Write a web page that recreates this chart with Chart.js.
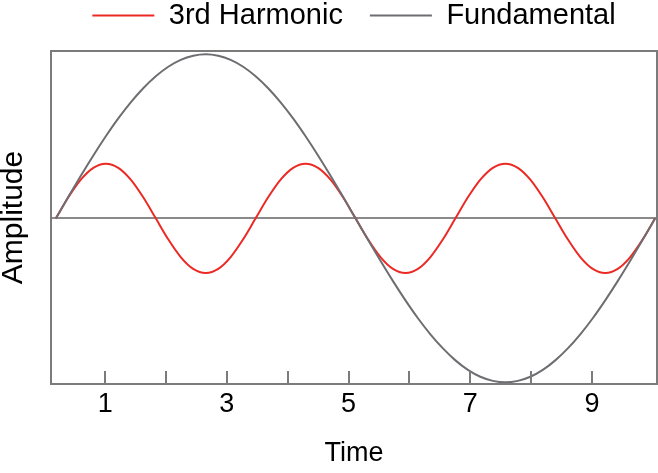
<!DOCTYPE html>
<html>
<head>
<meta charset="utf-8">
<script src="https://cdn.jsdelivr.net/npm/chart.js@4.4.1/dist/chart.umd.min.js"></script>
<style>
    html, body { margin: 0; padding: 0; background: #fff; }
    #wrap { width: 658px; height: 473px; }
</style>
</head>
<body>
<div id="wrap"><canvas id="waveChart"></canvas></div>
<script>
// sample times
const times = [0.190, 0.395, 0.600, 0.806, 1.011, 1.216, 1.421, 1.626, 1.832, 2.037, 2.242, 2.447, 2.653,
    2.858, 3.063, 3.268, 3.473, 3.679, 3.884, 4.089, 4.294, 4.499, 4.705, 4.910, 5.115,
    5.320, 5.525, 5.731, 5.936, 6.141, 6.346, 6.552, 6.757, 6.962, 7.167, 7.372, 7.578,
    7.783, 7.988, 8.193, 8.398, 8.604, 8.809, 9.014, 9.219, 9.424, 9.630, 9.835, 10.040];

const fundamental = [0, 0.131, 0.259, 0.383, 0.500, 0.609, 0.707, 0.793, 0.866, 0.924, 0.966, 0.991, 1,
    0.991, 0.966, 0.924, 0.866, 0.793, 0.707, 0.609, 0.500, 0.383, 0.259, 0.131, 0,
    -0.131, -0.259, -0.383, -0.500, -0.609, -0.707, -0.793, -0.866, -0.924, -0.966, -0.991, -1,
    -0.991, -0.966, -0.924, -0.866, -0.793, -0.707, -0.609, -0.500, -0.383, -0.259, -0.131, 0];

const thirdHarmonic = [0, 0.128, 0.236, 0.308, 0.333, 0.308, 0.236, 0.128, 0, -0.128, -0.236, -0.308, -0.333,
    -0.308, -0.236, -0.128, 0, 0.128, 0.236, 0.308, 0.333, 0.308, 0.236, 0.128, 0,
    -0.128, -0.236, -0.308, -0.333, -0.308, -0.236, -0.128, 0, 0.128, 0.236, 0.308, 0.333,
    0.308, 0.236, 0.128, 0, -0.128, -0.236, -0.308, -0.333, -0.308, -0.236, -0.128, 0];

const tickValues = [1, 2, 3, 4, 5, 6, 7, 8, 9];
const tickLabels = ['1', '', '3', '', '5', '', '7', '', '9'];

const frameColor = '#7b7b7b';
const font = 'Liberation Sans';

// box around the plot + small tick marks pointing up from the bottom edge
const framePlugin = {
    id: 'frame',
    beforeLayout(chart) {
        // leave a bigger gap under the legend than above it
        const lg = chart.legend;
        if (lg && !lg._extraGap) {
            const fit = lg.fit;
            lg.fit = function () {
                fit.call(this);
                this.height += 11;
            };
            lg._extraGap = true;
        }
    },
    afterDatasetsDraw(chart) {
        const { ctx, chartArea, scales } = chart;
        ctx.save();
        ctx.strokeStyle = frameColor;
        ctx.lineWidth = 2;
        ctx.strokeRect(chartArea.left, chartArea.top, chartArea.right - chartArea.left, chartArea.bottom - chartArea.top);
        ctx.beginPath();
        tickValues.forEach(v => {
            const x = Math.round(scales.x.getPixelForValue(v));
            ctx.moveTo(x, chartArea.bottom);
            ctx.lineTo(x, chartArea.bottom - 13);
        });
        ctx.stroke();
        ctx.restore();
    }
};

const ctx = document.getElementById('waveChart');

new Chart(ctx, {
    type: 'line',
    data: {
        datasets: [{
            label: '3rd Harmonic',
            data: times.map((t, i) => ({ x: t, y: thirdHarmonic[i] })),
            borderColor: '#ec2a25',
            backgroundColor: '#ec2a25',
            borderWidth: 2,
            pointRadius: 0,
            cubicInterpolationMode: 'monotone',
            order: 1
        }, {
            label: 'Fundamental',
            data: times.map((t, i) => ({ x: t, y: fundamental[i] })),
            borderColor: '#6e6e72',
            backgroundColor: '#6e6e72',
            borderWidth: 2,
            pointRadius: 0,
            cubicInterpolationMode: 'monotone',
            order: 0
        }]
    },
    options: {
        responsive: true,
        maintainAspectRatio: false,
        animation: false,
        devicePixelRatio: 1,
        layout: {
            padding: { top: -26, right: 1, bottom: 0, left: 0 }
        },
        plugins: {
            legend: {
                position: 'top',
                fullSize: false,
                labels: {
                    boxWidth: 62,
                    boxHeight: 0,
                    padding: 27,
                    color: '#000',
                    font: { family: font, size: 29 },
                    sort: (a, b) => a.datasetIndex - b.datasetIndex
                }
            },
            tooltip: { enabled: false }
        },
        scales: {
            x: {
                type: 'linear',
                min: 0.11,
                max: 10.07,
                afterBuildTicks: scale => {
                    scale.ticks = tickValues.map(v => ({ value: v }));
                },
                afterFit: scale => { scale.height = 89; },
                ticks: {
                    autoSkip: false,
                    maxRotation: 0,
                    padding: 4,
                    color: '#000',
                    font: { family: font, size: 27 },
                    callback: (value, index) => tickLabels[index]
                },
                grid: { display: false, drawTicks: false },
                border: { display: false },
                title: {
                    display: true,
                    text: 'Time',
                    color: '#000',
                    font: { family: font, size: 27 },
                    padding: { top: 0, bottom: 3 }
                }
            },
            y: {
                min: -1.01,
                max: 1.02,
                afterFit: scale => { scale.width = 51; },
                ticks: { display: false, stepSize: 0.5 },
                grid: {
                    drawTicks: false,
                    lineWidth: 2,
                    color: c => c.tick && c.tick.value === 0 ? '#8a8a8a' : 'rgba(0,0,0,0)'
                },
                border: { display: false },
                title: {
                    display: true,
                    text: 'Amplitude',
                    color: '#000',
                    font: { family: font, size: 30, lineHeight: 0.9 },
                    padding: { top: 0, bottom: 0 }
                }
            }
        }
    },
    plugins: [framePlugin]
});
</script>
</body>
</html>
